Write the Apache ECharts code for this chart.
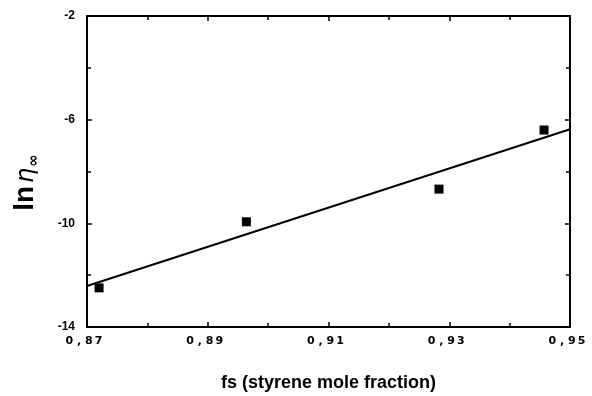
<!DOCTYPE html>
<html>
<head>
<meta charset="utf-8">
<script src="https://cdn.jsdelivr.net/npm/echarts@6/dist/echarts.min.js"></script>
<style>html,body{margin:0;padding:0;background:#fff}#c{width:592px;height:396px}</style>
</head>
<body>
<div id="c"></div>
<script>
var fsValues = [0.872, 0.8964, 0.9283, 0.9457];
var lnEta = [-12.49, -9.94, -8.68, -6.40];
var fitX = [0.87, 0.95];
var fitY = [-12.42, -6.37];
var xTicks = [0.87, 0.89, 0.91, 0.93, 0.95];
var yTicks = [-14, -10, -6, -2];

function fmtX(v) {
  var s = v.toFixed(2);
  return s.charAt(0) + ' , ' + s.charAt(2) + '\u2009' + s.charAt(3);
}
var chart = echarts.init(document.getElementById('c'));
var axisCommon = {
  axisLine: { show: true, onZero: false, lineStyle: { color: '#000', width: 2 } },
  axisTick: { show: true, inside: true, length: 5, lineStyle: { color: '#000', width: 1.5 } },
  minorTick: { show: true, splitNumber: 2, length: 4, lineStyle: { color: '#000', width: 1.5 } },
  splitLine: { show: false }
};
function mk(base, extra) { return Object.assign({}, JSON.parse(JSON.stringify(base)), extra); }
chart.setOption({
  animation: false,
  backgroundColor: '#fff',
  grid: { left: 87, right: 22, top: 16, bottom: 69, containLabel: false, outerBoundsMode: 'none' },
  xAxis: [
    mk(axisCommon, {
      type: 'value', min: xTicks[0], max: xTicks[xTicks.length - 1], interval: 0.02, position: 'bottom',
      axisLabel: { formatter: fmtX, color: '#000', fontFamily: 'DejaVu Sans', fontWeight: 'bold', fontSize: 11, margin: 9, padding: [0, 6, 0, 0] },
      name: 'fs (styrene mole fraction)', nameLocation: 'middle', nameGap: 47,
      nameTextStyle: { color: '#000', fontFamily: 'Liberation Sans', fontWeight: 'bold', fontSize: 18 }
    }),
    mk(axisCommon, {
      type: 'value', min: xTicks[0], max: xTicks[xTicks.length - 1], interval: 0.02, position: 'top',
      axisLabel: { show: false }
    })
  ],
  yAxis: [
    mk(axisCommon, {
      type: 'value', min: yTicks[0], max: yTicks[yTicks.length - 1], interval: 4, position: 'left',
      axisLabel: { color: '#000', fontFamily: 'Liberation Sans', fontWeight: 'bold', fontSize: 12, margin: 12 },
      name: '{a|ln}{b|\u03B7}{c|\u221E}', nameLocation: 'middle', nameRotate: 90, nameGap: 45,
      nameTextStyle: {
        color: '#000',
        padding: [0, 22, 0, 0],
        rich: {
          a: { fontFamily: 'Liberation Sans', fontWeight: 'bold', fontSize: 28, color: '#000', lineHeight: 32, verticalAlign: 'bottom', padding: [0, 0, 3, 0] },
          b: { fontFamily: 'DejaVu Sans', fontStyle: 'italic', fontSize: 24, color: '#000', lineHeight: 32, verticalAlign: 'bottom', padding: [0, 0, 3, 3] },
          c: { fontFamily: 'DejaVu Sans', fontWeight: 'bold', fontSize: 15, color: '#000', lineHeight: 32, verticalAlign: 'bottom', padding: [0, 0, 0, 1] }
        }
      }
    }),
    mk(axisCommon, {
      type: 'value', min: yTicks[0], max: yTicks[yTicks.length - 1], interval: 4, position: 'right',
      axisLabel: { show: false }
    })
  ],
  series: [
    {
      type: 'line', data: fitX.map(function (x, i) { return [x, fitY[i]]; }),
      showSymbol: false, symbol: 'none', lineStyle: { color: '#000', width: 2 }, silent: true
    },
    {
      type: 'scatter', data: fsValues.map(function (x, i) { return [x, lnEta[i]]; }),
      symbol: 'rect', symbolSize: 9, itemStyle: { color: '#000', opacity: 1 }
    }
  ]
});
</script>
</body>
</html>
